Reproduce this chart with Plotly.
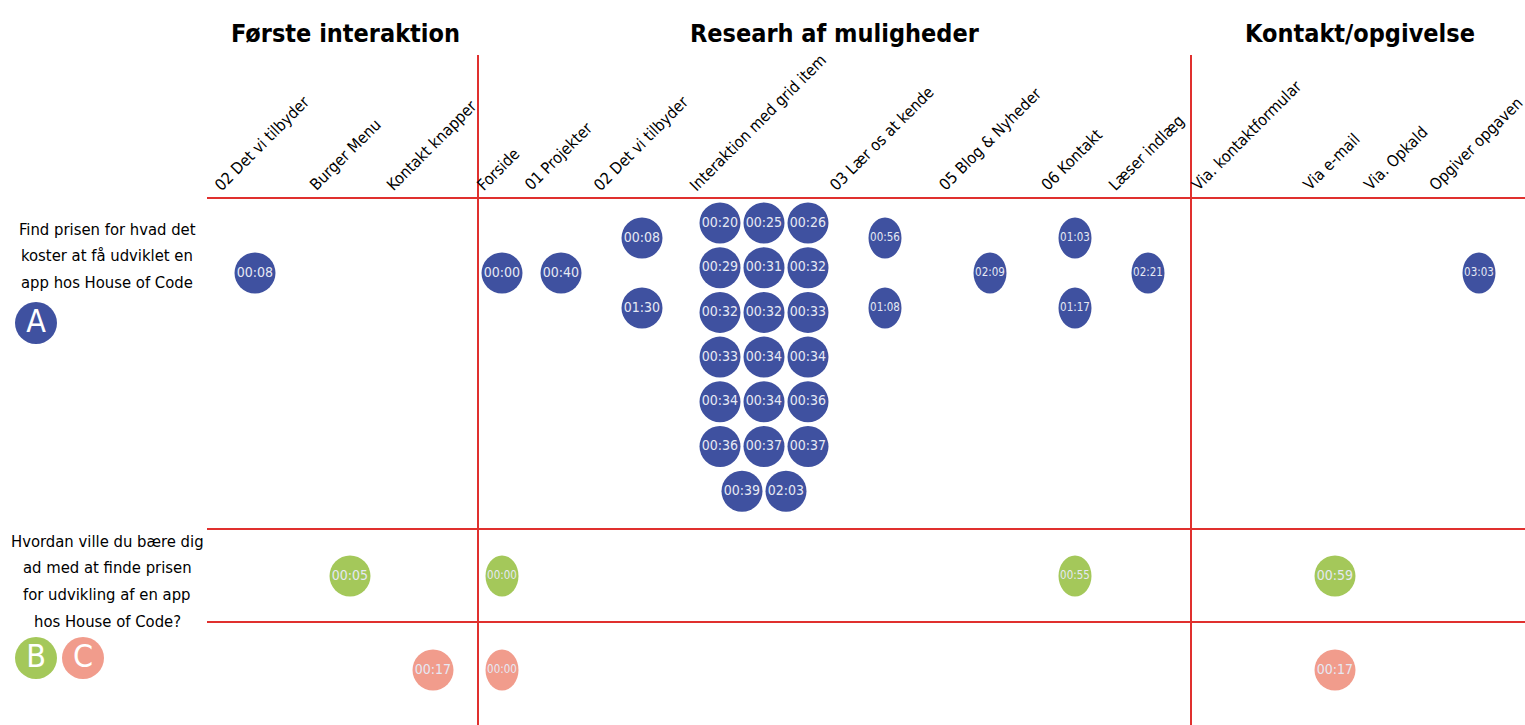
import plotly.graph_objects as go

# ---------------- DATA ----------------
stages = ["Første interaktion", "Researh af muligheder", "Kontakt/opgivelse"]
steps = ["02 Det vi tilbyder", "Burger Menu", "Kontakt knapper", "Forside", "01 Projekter",
         "02 Det vi tilbyder", "Interaktion med grid item", "03 Lær os at kende",
         "05 Blog & Nyheder", "06 Kontakt", "Læser indlæg", "Via. kontaktformular",
         "Via e-mail", "Via. Opkald", "Opgiver opgaven"]

task_a = ["Find prisen for hvad det", "koster at få udviklet en", "app hos House of Code"]
task_bc = ["Hvordan ville du bære dig", "ad med at finde prisen",
           "for udvikling af en app", "hos House of Code?"]

# (step index, time) per participant
a_step = [0, 3, 4, 5, 5] + [6] * 20 + [7, 7, 8, 9, 9, 10, 14]
a_time = ["00:08", "00:00", "00:40", "00:08", "01:30",
          "00:20", "00:25", "00:26", "00:29", "00:31", "00:32", "00:32", "00:32", "00:33",
          "00:33", "00:34", "00:34", "00:34", "00:34", "00:36", "00:36", "00:37", "00:37",
          "00:39", "02:03",
          "00:56", "01:08", "02:09", "01:03", "01:17", "02:21", "03:03"]
b_step = [1, 3, 9, 12]
b_time = ["00:05", "00:00", "00:55", "00:59"]
c_step = [2, 3, 12]
c_time = ["00:17", "00:00", "00:17"]

# ---------------- LAYOUT / STYLE ----------------
W, H = 1525, 725
FONT = "DejaVu Sans Condensed, Liberation Sans Narrow, sans-serif"
RED = "#e0302e"
COL = {"A": "#3f51a0", "B": "#a4c85a", "C": "#f19c8c"}
TXT = "#e6e9f4"

label_x = [218, 313, 390, 480, 528, 597, 693, 833, 942, 1045, 1112, 1195, 1307, 1367, 1433]
circle_x = [255, 350, 433, 502, 561, 642, 763, 885, 990, 1075, 1148, 1250, 1335, 1400, 1479]
stage_x = [345, 835, 1360]
row_y = {"A": 273, "B": 576, "C": 670}
narrow = {"A": set(range(7, 15)), "B": {3, 9}, "C": {3}}
R = 20.5
NARROW_W = 16.5
GRID_TOP, GRID_DY, GRID_DX = 223, 44.7, 44

line_top = 198
row_lines = [529, 622]
left_x = 207
vlines = [478, 1191]
task_a_y0, task_bc_y0, task_dy = 229, 541, 26.7


def positions(group, st_list):
    out = []
    counts = {}
    for s in st_list:
        counts[s] = counts.get(s, 0) + 1
    seen = {}
    for s in st_list:
        k = seen.get(s, 0)
        seen[s] = k + 1
        n = counts[s]
        cx = circle_x[s]
        cy = row_y[group]
        if n == 1:
            out.append((cx, cy))
        elif n == 2:
            out.append((cx, cy - 35 + 70 * k))
        else:
            r, c = divmod(k, 3)
            in_row = min(3, n - 3 * r)
            off = (c - (in_row - 1) / 2) * GRID_DX
            out.append((cx + 1 + off, GRID_TOP + r * GRID_DY))
    return out


fig = go.Figure()
shapes = []
annotations = []

# divider lines
for y in [line_top] + row_lines:
    shapes.append(dict(type="line", xref="x", yref="y", x0=left_x, x1=W, y0=y, y1=y,
                       line=dict(color=RED, width=2)))
for x in vlines:
    shapes.append(dict(type="line", xref="x", yref="y", x0=x, x1=x, y0=55, y1=H,
                       line=dict(color=RED, width=2)))

# circles
for g, st, tm in [("A", a_step, a_time), ("B", b_step, b_time), ("C", c_step, c_time)]:
    pos = positions(g, st)
    for is_narrow in (False, True):
        xs, ys, ts = [], [], []
        for (cx, cy), s, t in zip(pos, st, tm):
            nw = s in narrow[g]
            if nw != is_narrow:
                continue
            rx = NARROW_W if nw else R
            shapes.append(dict(type="circle", xref="x", yref="y", layer="below",
                               x0=cx - rx, x1=cx + rx, y0=cy - R, y1=cy + R,
                               fillcolor=COL[g], line=dict(width=0)))
            xs.append(cx)
            ys.append(cy)
            ts.append(t)
        if xs:
            fig.add_trace(go.Scatter(x=xs, y=ys, mode="text", text=ts,
                                     textposition="middle center",
                                     textfont=dict(family=FONT, size=11.5 if is_narrow else 14,
                                                   color=TXT),
                                     hoverinfo="skip", showlegend=False))

# badges
badges = [("A", 36, 323), ("B", 36, 658), ("C", 83, 658)]
for g, bx, by in badges:
    shapes.append(dict(type="circle", xref="x", yref="y", layer="below",
                       x0=bx - 21, x1=bx + 21, y0=by - 21, y1=by + 21,
                       fillcolor=COL[g], line=dict(width=0)))
fig.add_trace(go.Scatter(x=[b[1] for b in badges], y=[b[2] + 1 for b in badges], mode="text",
                         text=[b[0] for b in badges],
                         textfont=dict(family=FONT, size=32, color="white"),
                         hoverinfo="skip", showlegend=False))

# stage headers
for name, sx in zip(stages, stage_x):
    annotations.append(dict(x=sx, y=33, xref="x", yref="y", text="<b>" + name + "</b>",
                            showarrow=False, font=dict(family=FONT, size=25, color="black"),
                            xanchor="center", yanchor="middle"))

# step labels
for name, lx in zip(steps, label_x):
    annotations.append(dict(x=lx - 10, y=line_top - 1, xref="x", yref="y", text=name,
                            showarrow=False, textangle=-45,
                            font=dict(family=FONT, size=16, color="black"),
                            xanchor="left", yanchor="bottom"))

# task texts (one annotation per line for wider line spacing)
for lines, y0 in [(task_a, task_a_y0), (task_bc, task_bc_y0)]:
    for i, ln in enumerate(lines):
        annotations.append(dict(x=107, y=y0 + i * task_dy, xref="x", yref="y", text=ln,
                                showarrow=False,
                                font=dict(family=FONT, size=16.5, color="black"),
                                xanchor="center", yanchor="middle"))

fig.update_layout(
    width=W, height=H, margin=dict(l=0, r=0, t=0, b=0),
    paper_bgcolor="white", plot_bgcolor="white",
    xaxis=dict(range=[0, W], visible=False, fixedrange=True),
    yaxis=dict(range=[H, 0], visible=False, fixedrange=True),
    shapes=shapes, annotations=annotations, showlegend=False,
)

fig.write_html("out.html", config={"displayModeBar": False},
               post_script="document.body.style.margin='0';document.body.style.overflow='hidden';")
